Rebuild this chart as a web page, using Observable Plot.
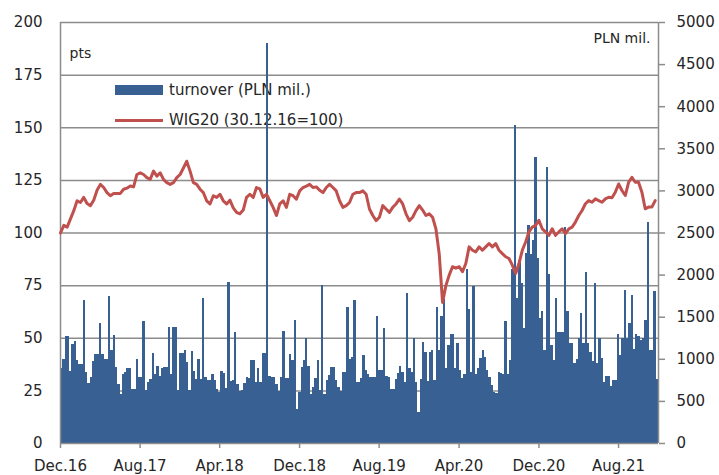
<!DOCTYPE html>
<html><head><meta charset="utf-8">
<script src="https://cdn.jsdelivr.net/npm/d3@7"></script>
<script src="https://cdn.jsdelivr.net/npm/@observablehq/plot@0.6"></script>
<style>
body{margin:0;background:#fff;}
#wrap{position:relative;width:719px;height:475px;font-family:"DejaVu Sans",sans-serif;}
#legend{position:absolute;left:0;top:0;width:719px;height:475px;z-index:0;}
#chart{position:absolute;left:0;top:0;z-index:1;}
.sw{position:absolute;}
.lt{position:absolute;font-size:15px;color:#262626;line-height:18px;white-space:nowrap;}
</style></head><body>
<div id="wrap"><div id="legend"></div><div id="chart"></div></div>
<script>
// Turnover, PLN mil. (weekly bars), one array per year from Dec.16
const turnover2017 = [895,1000,1270,1270,850,1180,1210,980,935,935,1700,845,715,785,975,1055,1055,1420,1055,1000,1000,1740,1110,1280,900,700,585,815,845,895,895,645,645,1000,785,785,1445,625,725,765,1070,825,920,790,895,905,905,1380,815,1380,1380,625];
const turnover2018 = [1070,1070,1100,960,625,1095,855,765,1000,765,1725,785,750,750,825,750,645,605,855,830,655,1915,735,750,1320,705,615,635,715,785,775,980,980,725,885,725,1070,1070,4750,790,785,785,700,620,785,1330,775,775,1060,980,1465,400];
const turnover2019 = [600,900,980,1250,920,585,665,770,990,625,1875,580,745,805,905,905,745,665,620,845,845,1615,1000,1020,1695,725,725,770,1040,870,825,785,785,785,1505,870,870,1370,790,785,645,645,765,830,920,845,725,1785,895,845,1250,725,370];
const turnover2020 = [765,1200,1080,735,1080,1100,745,1615,1100,1510,1715,885,1160,1300,1300,885,1190,865,775,825,2070,1595,845,1860,825,895,1015,1110,1020,870,785,685,605,595,845,830,825,1450,825,980,2070,3780,1720,2170,1900,1365,2255,2590,2250,2410,3400,2200];
const turnover2021 = [1480,1565,1110,3280,2005,1160,990,1725,1320,1320,1320,2570,1565,1190,1190,945,1000,1250,1545,1190,2030,1190,1080,975,1900,950,1250,1015,725,790,790,675,750,750,1300,1040,1250,1820,1250,1425,1755,1120,1290,1270,1220,1250,1460,2620,1100,1100,1805,765];

// WIG20 index (30.12.16 = 100), ~3 readings per month
const wigA = [100,103.6,102.8,106.7,110.6,115.3,114.5,116.9,114,113,115.6,120.3,123.1,121.6,119.2,117.7,118.8,118.8,118.8,120.8,121.3,122.3,121.9,127.8,128.6,127.8,126.3,125.5,129.4,127,128.6,125.5,123.9,123.1,123.9,126.3,127.8,130.9,134.1,129.4,123.9,123.1,120.8,119.2,115.3,113.8,117.7,116.9,118.4,115.3,113.8,115.6,111.9,109.8,109.1,110.9,116.9,118.4,116.9,121.6,121];
const wigB = [116.9,118.4,115.3,112.2,108.3,113.8,115.3,112.2,118.4,117.7,116.1,120,121.6,122.3,123.1,121.6,121.9,120.3,119.2,121.6,123.1,121.6,120,115.3,112.2,113,114.5,118.4,119.2,119.2,120,118.4,111.4,108.3,105.9,107.5,113,111.4,109.8,112.2,113.8,116.1,113.8,109.1,105.9,107.5,110.6,113,110.9,108.3,109.1,107.5,102,90,67,75,80,84,83.3];
const wigC = [84,81.6,85.5,93.4,91.8,91,93.4,91.8,93.4,95,93.4,95,91.8,90.2,88.7,87.9,84.7,80.8,85.5,91.8,95.7,100.5,102.8,103.6,106,102,100.5,98.9,102,98.9,100.5,102,99.7,102,102.8,105.2,108.3,110.7,113.9,115.4,114.6,116.2,115.4,114.6,116.2,117,116.7,119.4,123.3,120.2,117.8,124.1,126.5,124.1,124.1,119.4,111.5,112.3,112.3,115.4];

// Axis ticks
const xTickDates = ["2016-12-01","2017-08-01","2018-04-01","2018-12-01","2019-08-01","2020-04-01","2020-12-01","2021-08-01"];
const xTickLabels = ["Dec.16","Aug.17","Apr.18","Dec.18","Aug.19","Apr.20","Dec.20","Aug.21"];
const leftTicks = [0,25,50,75,100,125,150,175,200];
const rightTicks = [0,500,1000,1500,2000,2500,3000,3500,4000,4500,5000];
const legendLabels = ["turnover (PLN mil.)","WIG20 (30.12.16=100)"];
const colors = {bar:"#386092", line:"#c0504d", grid:"#8c8c8c", text:"#262626"};

const start = new Date(Date.UTC(2016,11,1));
const end = new Date(Date.UTC(2021,11,1));
const span = end - start;
const turnover = [...turnover2017, ...turnover2018, ...turnover2019, ...turnover2020, ...turnover2021];
const N = turnover.length;
const bars = turnover.map((v,k) => ({d0:new Date(+start + k*span/N), d1:new Date(+start + (k+1)*span/N), v}));
const wigVals = [...wigA, ...wigB, ...wigC];
const M = wigVals.length;
const wig = wigVals.map((v,i) => ({date:new Date(+start + i*span/M), v}));
const ratio = 5000/200;
const tickDates = xTickDates.map(s => new Date(s + "T00:00:00Z"));
const labelOf = new Map(tickDates.map((d,i)=>[+d, xTickLabels[i]]));

const chart = Plot.plot({
  width:719, height:475,
  marginLeft:60, marginRight:61, marginTop:22, marginBottom:32,
  x:{type:"utc", domain:[start,end]},
  y:{domain:[0,200]},
  style:{fontFamily:"DejaVu Sans, sans-serif", fontSize:"15px", color:colors.text, background:"transparent", overflow:"visible"},
  marks:[
    Plot.ruleY(leftTicks.filter(d=>d>0), {stroke:colors.grid, strokeWidth:1.5}),
    Plot.rect(bars, {x1:"d0", x2:"d1", y1:0, y2:d=>d.v/ratio, fill:colors.bar, inset:0, shapeRendering:"crispEdges"}),
    Plot.ruleX([start, end], {stroke:colors.grid, strokeWidth:1.5}),
    Plot.ruleY([0], {stroke:colors.grid, strokeWidth:1.5}),
    Plot.line(wig, {x:"date", y:"v", stroke:colors.line, strokeWidth:3, strokeLinejoin:"round"}),
    Plot.axisY(leftTicks, {anchor:"left", tickSize:0, tickPadding:18, label:null, fill:colors.text}),
    Plot.axisY(rightTicks.map(d=>d/ratio), {anchor:"right", tickSize:6, tickPadding:12, stroke:colors.grid, strokeWidth:1.5, tickFormat:d=>String(Math.round(d*ratio)), label:null, fill:colors.text, textAnchor:"start"}),
    Plot.axisX(tickDates, {anchor:"bottom", tickSize:5, tickPadding:12, stroke:colors.grid, strokeWidth:1.5, tickFormat:d=>labelOf.get(+d), label:null, fill:colors.text}),
    Plot.text(["pts"], {frameAnchor:"top-left", dx:9, dy:26, text:d=>d, textAnchor:"start", fontSize:14, fill:colors.text}),
    Plot.text(["PLN mil."], {frameAnchor:"top-right", dx:-8, dy:11, text:d=>d, textAnchor:"end", fontSize:14, fill:colors.text})
  ]
});
document.getElementById("chart").appendChild(chart);

// Legend (drawn beneath the chart, inside the plot area)
const lg = document.getElementById("legend");
const items = [
  {label:legendLabels[0], swatch:{left:115, top:85, width:48, height:10, background:colors.bar}, textTop:81},
  {label:legendLabels[1], swatch:{left:115, top:118.5, width:48, height:3, background:colors.line}, textTop:111}
];
items.forEach(it => {
  const s = document.createElement("div");
  s.className = "sw";
  Object.entries(it.swatch).forEach(([k,v]) => s.style[k] = typeof v === "number" ? v + "px" : v);
  lg.appendChild(s);
  const t = document.createElement("div");
  t.className = "lt";
  t.style.left = "169px";
  t.style.top = it.textTop + "px";
  t.textContent = it.label;
  lg.appendChild(t);
});
</script>
</body></html>
